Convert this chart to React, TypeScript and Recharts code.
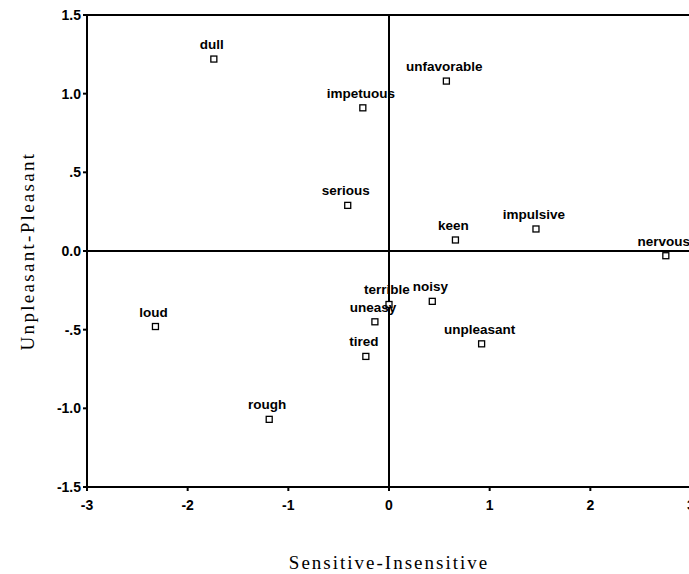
import { ScatterChart, Scatter, XAxis, YAxis, ReferenceLine, Label } from "recharts";

const words = ["dull", "unfavorable", "impetuous", "serious", "impulsive", "keen", "nervous", "noisy", "terrible", "uneasy", "loud", "unpleasant", "tired", "rough"];
const sensitive = [-1.74, 0.57, -0.26, -0.41, 1.46, 0.66, 2.75, 0.43, 0.0, -0.14, -2.32, 0.92, -0.23, -1.19];
const pleasant = [1.22, 1.08, 0.91, 0.29, 0.14, 0.07, -0.03, -0.32, -0.34, -0.45, -0.48, -0.59, -0.67, -1.07];

const xTicks = [-3, -2, -1, 0, 1, 2, 3];
const yTicks = [1.5, 1.0, 0.5, 0.0, -0.5, -1.0, -1.5];
const yTickLabels = ["1.5", "1.0", ".5", "0.0", "-.5", "-1.0", "-1.5"];

const points = words.map((w, i) => ({ word: w, x: sensitive[i], y: pleasant[i] }));

const SANS = "'Liberation Sans', Arial, sans-serif";
const SERIF = "'Liberation Serif', 'Times New Roman', serif";

const tickStyle = { fill: "#000", fontSize: 14, fontFamily: SANS, fontWeight: 700 };

const Marker = (props: any) => {
  const { cx, cy, payload } = props;
  return (
    <g>
      <text x={cx - 2} y={cy - 10} textAnchor="middle" fontSize={13.5} fontFamily={SANS} fontWeight={700} fill="#000">{payload.word}</text>
      <rect x={cx - 3} y={cy - 3} width={6} height={6} fill="#fff" stroke="#000" strokeWidth={1.3} />
    </g>
  );
};

export default function App() {
  return (
    <div style={{ position: "absolute", left: 0, top: 0, width: 689, height: 574, overflow: "hidden", background: "#fff" }}>
      <ScatterChart width={720} height={574} margin={{ top: 15, right: 29, left: 0, bottom: 0 }}>
        <XAxis type="number" dataKey="x" domain={[-3, 3]} ticks={xTicks} allowDataOverflow
          height={87} stroke="#000" strokeWidth={2} tickSize={4} tickMargin={9} tick={tickStyle}>
          <Label value="Sensitive-Insensitive" position="insideBottom" offset={5} style={{ fontFamily: SERIF, fontSize: 19, letterSpacing: 2, fill: "#000" }} />
        </XAxis>
        <YAxis type="number" dataKey="y" domain={[-1.5, 1.5]} ticks={yTicks} allowDataOverflow
          width={87} stroke="#000" strokeWidth={2} tickSize={4} tickMargin={2} tick={tickStyle}
          tickFormatter={(v: number) => yTickLabels[yTicks.indexOf(v)] ?? String(v)}>
          <Label value="Unpleasant-Pleasant" angle={-90} position="insideLeft" offset={27} style={{ fontFamily: SERIF, fontSize: 19, letterSpacing: 2.3, fill: "#000", textAnchor: "middle" }} />
        </YAxis>
        <ReferenceLine y={1.5} stroke="#000" strokeWidth={2} />
        <ReferenceLine y={0} stroke="#000" strokeWidth={2} />
        <ReferenceLine x={0} stroke="#000" strokeWidth={2} />
        <Scatter data={points} shape={<Marker />} isAnimationActive={false} />
      </ScatterChart>
    </div>
  );
}
